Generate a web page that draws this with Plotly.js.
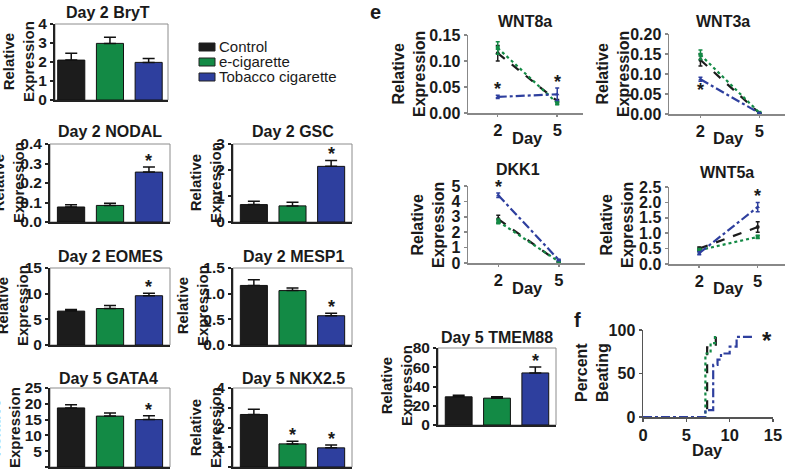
<!DOCTYPE html>
<html>
<head>
<meta charset="utf-8">
<script src="https://cdn.plot.ly/plotly-3.0.1.min.js"></script>
<style>
  html, body { margin: 0; padding: 0; background: #ffffff; }
  #chart { width: 787px; height: 470px; }
</style>
</head>
<body>
<div id="chart"></div>
<script>
// ---- treatment groups ----
const groups = ['Control', 'e-cigarette', 'Tobacco cigarette'];
const groupColors = ['#1c1c1c', '#138a45', '#2e3f9e'];
const groupDash = ['dash', 'dot', 'dashdot'];
const groupSymbol = ['circle', 'square', 'triangle-up'];

// ---- bar panels: mean relative expression, SEM, significance (1 = *) ----
const bryTMean = [2.10, 2.98, 1.98];
const bryTErr = [0.36, 0.32, 0.21];
const bryTSig = [0, 0, 0];

const nodalMean = [0.077, 0.085, 0.256];
const nodalErr = [0.012, 0.011, 0.026];
const nodalSig = [0, 0, 1];

const gscMean = [0.67, 0.62, 2.14];
const gscErr = [0.13, 0.14, 0.23];
const gscSig = [0, 0, 1];

const eomesMean = [6.6, 7.1, 9.6];
const eomesErr = [0.3, 0.6, 0.5];
const eomesSig = [0, 0, 1];

const mesp1Mean = [1.16, 1.06, 0.57];
const mesp1Err = [0.11, 0.05, 0.05];
const mesp1Sig = [0, 0, 1];

const gata4Mean = [18.7, 16.1, 15.0];
const gata4Err = [1.0, 1.0, 1.2];
const gata4Sig = [0, 0, 1];

const nkx25Mean = [2.66, 1.17, 0.97];
const nkx25Err = [0.26, 0.13, 0.15];
const nkx25Sig = [0, 1, 1];

const tmem88Mean = [29.3, 27.9, 54.1];
const tmem88Err = [1.7, 1.4, 6.2];
const tmem88Sig = [0, 0, 1];

// ---- time-course panels (day 2 and day 5), one row per group ----
const days = [2, 5];

const wnt8aMean = [[0.115, 0.023], [0.125, 0.019], [0.031, 0.036]];
const wnt8aErr = [[0.015, 0.003], [0.012, 0.003], [0.003, 0.012]];
const wnt8aSig = [[0, 0], [0, 0], [1, 1]];

const wnt3aMean = [[0.135, 0.002], [0.148, 0.003], [0.087, 0.002]];
const wnt3aErr = [[0.015, 0.001], [0.012, 0.001], [0.005, 0.001]];
const wnt3aSig = [[0, 0], [0, 0], [-1, 0]];

const dkk1Mean = [[2.85, 0.05], [2.70, 0.10], [4.40, 0.20]];
const dkk1Err = [[0.25, 0.03], [0.15, 0.05], [0.15, 0.05]];
const dkk1Sig = [[0, 0], [0, 0], [1, 0]];

const wnt5aMean = [[0.50, 1.20], [0.45, 0.88], [0.35, 1.85]];
const wnt5aErr = [[0.05, 0.17], [0.05, 0.05], [0.05, 0.15]];
const wnt5aSig = [[0, 0], [0, 0], [0, 1]];

// ---- percent of beating embryoid bodies over time ----
const beatDayCtrl = [0, 7.4, 8.4];
const beatPctCtrl = [0, 80, 100];
const beatDayEcig = [0, 7.2, 7.8, 8.3];
const beatPctEcig = [0, 73, 85, 96];
const beatDayTob = [0, 7.2, 8.1, 8.6, 9.0, 10.0, 10.8, 12.9];
const beatPctTob = [0, 8, 60, 66, 73, 81, 92, 92];

// ---------------------------------------------------------------
const W = 787, H = 470;
const FONT = '"Liberation Sans", Arial, Helvetica, sans-serif';
const INK = '#1a1a1a';
const BOLD = 700;
const traces = [], annotations = [], shapes = [];
const layout = {
  width: W, height: H,
  margin: { l: 0, r: 0, t: 0, b: 0 },
  paper_bgcolor: '#ffffff', plot_bgcolor: 'rgba(0,0,0,0)',
  showlegend: false,
  font: { family: FONT, color: INK },
  annotations, shapes
};

function dom(l, r, t, b) { return { x: [l / W, r / W], y: [1 - b / H, 1 - t / H] }; }
function ids(i) {
  const s = i === 1 ? '' : String(i);
  return { xa: 'xaxis' + s, ya: 'yaxis' + s, x: 'x' + s, y: 'y' + s };
}
function text(t, cx, cy, size, extra) {
  annotations.push(Object.assign({
    text: t, xref: 'paper', yref: 'paper', x: cx / W, y: 1 - cy / H,
    xanchor: 'center', yanchor: 'middle', showarrow: false,
    font: { family: FONT, size: size, color: INK, weight: BOLD }
  }, extra || {}));
}
function star(ax, x, y, below, size) {
  annotations.push({
    text: '*', xref: ax.x, yref: ax.y, x: x, y: y,
    xanchor: 'center', yanchor: 'middle', yshift: below ? -9 : 6, showarrow: false,
    font: { family: FONT, size: size || 18, color: INK, weight: BOLD }
  });
}
// each axis gets its own tick font object
function tickFont(size) { return { family: FONT, size: size, color: INK, weight: BOLD }; }

function barPanel(i, title, mean, err, sig, yRange, dtick, fmt, box, xRange, titlePos, yTitlePos) {
  const ax = ids(i), d = dom.apply(null, box);
  traces.push({
    type: 'bar', x: [0, 1, 2], y: mean, xaxis: ax.x, yaxis: ax.y, width: 0.7,
    marker: { color: groupColors, line: { color: '#111', width: 1 } },
    error_y: { type: 'data', symmetric: false, array: err, arrayminus: [0, 0, 0],
               color: '#111', thickness: 1.5, width: 6 },
    hoverinfo: 'skip'
  });
  layout[ax.xa] = { domain: d.x, range: xRange, anchor: ax.y, showticklabels: false, ticks: '',
    showgrid: false, zeroline: false, showline: true, linecolor: '#222', linewidth: 2, fixedrange: true };
  layout[ax.ya] = { domain: d.y, range: yRange, anchor: ax.x, tick0: 0, dtick: dtick, tickformat: fmt,
    ticks: 'outside', ticklen: 3, tickwidth: 2, tickcolor: '#222', showgrid: false, zeroline: false,
    showline: true, linecolor: '#222', linewidth: 2, tickfont: tickFont(15.5), fixedrange: true };
  shapes.push({ type: 'rect', xref: ax.x + ' domain', yref: ax.y + ' domain', x0: 0, x1: 1, y0: 0, y1: 1,
    line: { color: '#8c8c8c', width: 1 }, layer: 'below' });
  sig.forEach((s, k) => { if (s) star(ax, k, mean[k] + err[k], false); });
  text(title, titlePos[0], titlePos[1], 16);
  text('Relative<br>Expression', yTitlePos[0], yTitlePos[1], 15, { textangle: -90 });
}

function linePanel(i, title, means, errs, sigs, yRange, dtick, fmt, box, xRange, titlePos, yTitlePos, dayPos) {
  const ax = ids(i), d = dom.apply(null, box);
  means.forEach((m, g) => {
    traces.push({
      type: 'scatter', mode: 'lines+markers', x: days, y: m, xaxis: ax.x, yaxis: ax.y,
      line: { color: groupColors[g], dash: groupDash[g], width: 2.2 },
      marker: { color: groupColors[g], size: 4, symbol: groupSymbol[g] },
      error_y: { type: 'data', array: errs[g], color: groupColors[g], thickness: 1.5, width: 2 },
      cliponaxis: false, hoverinfo: 'skip', name: groups[g]
    });
    sigs[g].forEach((s, k) => {
      if (s > 0) star(ax, days[k], m[k] + errs[g][k], false);
      else if (s < 0) star(ax, days[k], m[k] - errs[g][k], true);
    });
  });
  layout[ax.xa] = { domain: d.x, range: xRange, anchor: ax.y, tickvals: days, ticks: 'outside', ticklen: 2,
    tickwidth: 1.5, tickcolor: '#888', showgrid: false, zeroline: false, showline: true, linecolor: '#888',
    linewidth: 1.5, tickfont: tickFont(16.5), fixedrange: true };
  layout[ax.ya] = { domain: d.y, range: yRange, anchor: ax.x, tick0: 0, dtick: dtick, tickformat: fmt,
    ticks: 'outside', ticklen: 3, tickwidth: 1.5, tickcolor: '#888', showgrid: false, zeroline: false,
    showline: true, linecolor: '#888', linewidth: 1.5, tickfont: tickFont(16), fixedrange: true };
  text(title, titlePos[0], titlePos[1], 16);
  text('Relative<br>Expression', yTitlePos[0], yTitlePos[1], 16, { textangle: -90 });
  text('Day', dayPos[0], dayPos[1], 16.5);
}

// left column of bar charts
const barX = [-0.54, 2.54];
barPanel(1, 'Day 2 BryT', bryTMean, bryTErr, bryTSig, [0, 4], 1, 'd', [55, 168, 24, 100], [-0.42, 2.5], [108, 12], [19, 62]);
barPanel(2, 'Day 2 NODAL', nodalMean, nodalErr, nodalSig, [0, 0.4], 0.1, '.1f', [50, 170, 144, 222], barX, [110, 132], [8, 183]);
barPanel(3, 'Day 2 GSC', gscMean, gscErr, gscSig, [0, 3], 1, 'd', [233, 352, 144, 222], barX, [293, 132], [205, 183]);
barPanel(4, 'Day 2 EOMES', eomesMean, eomesErr, eomesSig, [0, 15], 5, 'd', [50, 170, 268, 345], barX, [111, 256], [12, 306]);
barPanel(5, 'Day 2 MESP1', mesp1Mean, mesp1Err, mesp1Sig, [0, 1.5], 0.5, '.1f', [233, 352, 268, 345], barX, [293, 256], [192, 306]);
barPanel(6, 'Day 5 GATA4', gata4Mean, gata4Err, gata4Sig, [0, 25], 5, 'd', [50, 170, 388, 467], barX, [108, 378], [4, 428]);
barPanel(7, 'Day 5 NKX2.5', nkx25Mean, nkx25Err, nkx25Sig, [0, 4], 1, 'd', [233, 352, 388, 467], barX, [293, 378], [205, 428]);
barPanel(8, 'Day 5 TMEM88', tmem88Mean, tmem88Err, tmem88Sig, [0, 80], 20, 'd', [438, 556, 348, 425], barX, [497, 337], [396, 386]);

// panel e: time courses
const dayX = [0.5, 6.3];
linePanel(9, 'WNT8a', wnt8aMean, wnt8aErr, wnt8aSig, [0, 0.15], 0.05, '.2f', [468, 583, 35, 113], dayX, [525, 22], [409, 74], [527, 138]);
linePanel(10, 'WNT3a', wnt3aMean, wnt3aErr, wnt3aSig, [0, 0.2], 0.05, '.2f', [669, 785, 34, 114], [0.4, 6.3], [723, 22], [613, 74], [728, 138]);
linePanel(11, 'DKK1', dkk1Mean, dkk1Err, dkk1Sig, [0, 5], 1, 'd', [468, 585, 186, 263], dayX, [518, 170], [428, 225], [527, 288]);
linePanel(12, 'WNT5a', wnt5aMean, wnt5aErr, wnt5aSig, [0, 2.5], 0.5, '.1f', [669, 785, 187, 264], [0.45, 6.4], [727, 172], [617, 225], [728, 288]);

// panel f: percent beating
(function () {
  const ax = ids(13), d = dom(643, 773, 330, 417);
  const dx = [beatDayCtrl, beatDayEcig, beatDayTob];
  const dy = [beatPctCtrl, beatPctEcig, beatPctTob];
  dx.forEach((xs, g) => {
    traces.push({
      type: 'scatter', mode: 'lines', x: xs, y: dy[g], xaxis: ax.x, yaxis: ax.y,
      line: { color: groupColors[g], dash: groupDash[g], width: 2.2, shape: 'hv' },
      cliponaxis: false, hoverinfo: 'skip', name: groups[g]
    });
  });
  layout[ax.xa] = { domain: d.x, range: [0, 15], anchor: ax.y, tick0: 0, dtick: 5, ticks: 'outside', ticklen: 3,
    tickwidth: 1.5, tickcolor: '#555', showgrid: false, zeroline: false, showline: true, linecolor: '#555',
    linewidth: 1.5, tickfont: tickFont(16.5), fixedrange: true };
  layout[ax.ya] = { domain: d.y, range: [0, 100], anchor: ax.x, tick0: 0, dtick: 50, ticks: 'outside', ticklen: 3,
    tickwidth: 1.5, tickcolor: '#555', showgrid: false, zeroline: false, showline: true, linecolor: '#555',
    linewidth: 1.5, tickfont: tickFont(16), fixedrange: true };
  const last = beatDayTob.length - 1;
  annotations.push({ text: '*', xref: ax.x, yref: ax.y, x: beatDayTob[last] + 1.4, y: beatPctTob[last],
    xanchor: 'center', yanchor: 'middle', yshift: -4, showarrow: false,
    font: { family: FONT, size: 24, color: INK, weight: BOLD } });
  text('Percent<br>Beating', 592, 373, 16, { textangle: -90 });
  text('Day', 707, 450, 16.5);
})();

// panel letters
text('e', 375, 12, 20);
text('f', 577, 320, 20);

// group key
groups.forEach((g, k) => {
  const cy = 47 + k * 15;
  shapes.push({ type: 'rect', xref: 'paper', yref: 'paper', x0: 199 / W, x1: 215 / W,
    y0: 1 - (cy + 4) / H, y1: 1 - (cy - 4) / H, fillcolor: groupColors[k], line: { color: '#222', width: 1 } });
  annotations.push({ text: g, xref: 'paper', yref: 'paper', x: 217 / W, y: 1 - cy / H,
    xanchor: 'left', yanchor: 'middle', showarrow: false,
    font: { family: FONT, size: 15, color: INK } });
});

Plotly.newPlot('chart', traces, layout, { staticPlot: true, displayModeBar: false });
</script>
</body>
</html>
